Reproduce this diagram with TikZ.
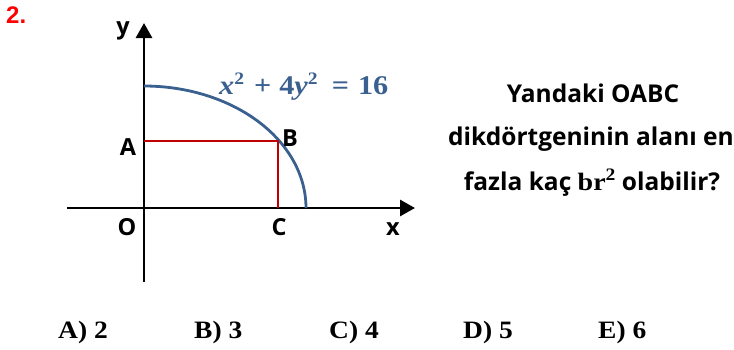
\documentclass[tikz,border=0pt]{standalone}
\usepackage{fontspec}
\usetikzlibrary{arrows.meta}
\newfontfamily\labfont{Open Sans}
\newfontfamily\numfont{Liberation Sans}
\newfontfamily\ansfont[FakeStretch=1.1]{Liberation Serif}
\newfontfamily\eqfont[FakeStretch=1.12]{Liberation Serif}
\definecolor{ellblue}{HTML}{3A6090}
\definecolor{rectred}{HTML}{C00000}
\definecolor{numred}{HTML}{FF0000}
\newcommand{\mysup}[1]{\raisebox{9.5pt}{\fontsize{17.5}{18}\selectfont #1}}
\begin{document}
\begin{tikzpicture}[x=1pt,y=-1pt,
  axis/.style={line width=2.8pt,-{Triangle[length=15pt,width=16pt]}},
  lab/.style={font=\labfont\bfseries\fontsize{23.5}{26}\selectfont, anchor=base, inner sep=0pt},
  qtext/.style={font=\labfont\bfseries\fontsize{24.5}{28}\selectfont, anchor=base, inner sep=0pt},
  eqstyle/.style={text=ellblue,font=\eqfont\bfseries\fontsize{27}{28}\selectfont, anchor=base west, inner sep=0pt},
  numstyle/.style={text=numred,font=\numfont\bfseries\fontsize{24}{26}\selectfont, anchor=base west, inner sep=0pt},
  ans/.style={font=\ansfont\bfseries\fontsize{25}{28}\selectfont, anchor=base west, inner sep=0pt}]
\useasboundingbox (0,0) rectangle (734,349);
\coordinate (O) at (144,208);
\coordinate (A) at (144,141);
\coordinate (B) at (278,141);
\coordinate (C) at (278,208);
\coordinate (xs) at (67,208);
\coordinate (xe) at (415,208);
\coordinate (ys) at (144,282);
\coordinate (ye) at (144,23);
\draw[axis] (xs) -- (xe);
\draw[axis] (ys) -- (ye);
\draw[ellblue, line width=2.8pt] plot[domain=0:90,samples=80] ({144+162*cos(\x)},{208-122*sin(\x)});
\draw[rectred, line width=2.8pt] (A) -- (B) -- (C);
\node[numstyle] (num) at (6,23) {2.};
\node[lab] (ly) at (123,34) {y};
\node[lab] (lA) at (128,155) {A};
\node[lab] (lB) at (290,146) {B};
\node[lab] (lO) at (127,235) {O};
\node[lab] (lC) at (279,235) {C};
\node[lab] (lx) at (393,235) {x};
\node[eqstyle] (eqn) at (219,94) {\textit{x}\mysup{2}\hspace{10pt}+\hspace{8pt}4\textit{y}\mysup{2}\hspace{14pt}=\hspace{9pt}16};
\node[qtext] (q1) at (593,102) {Yandaki OABC};
\node[qtext] (q2) at (591,145) {dikdörtgeninin alanı en};
\node[qtext] (q3) at (592,190) {fazla kaç {\eqfont\fontsize{25}{28}\selectfont br\mysup{2}} olabilir?};
\node[ans] (a1) at (58,338) {A) 2};
\node[ans] (a2) at (194,338) {B) 3};
\node[ans] (a3) at (329,338) {C) 4};
\node[ans] (a4) at (463,338) {D) 5};
\node[ans] (a5) at (598,338) {E) 6};
\end{tikzpicture}
\end{document}
